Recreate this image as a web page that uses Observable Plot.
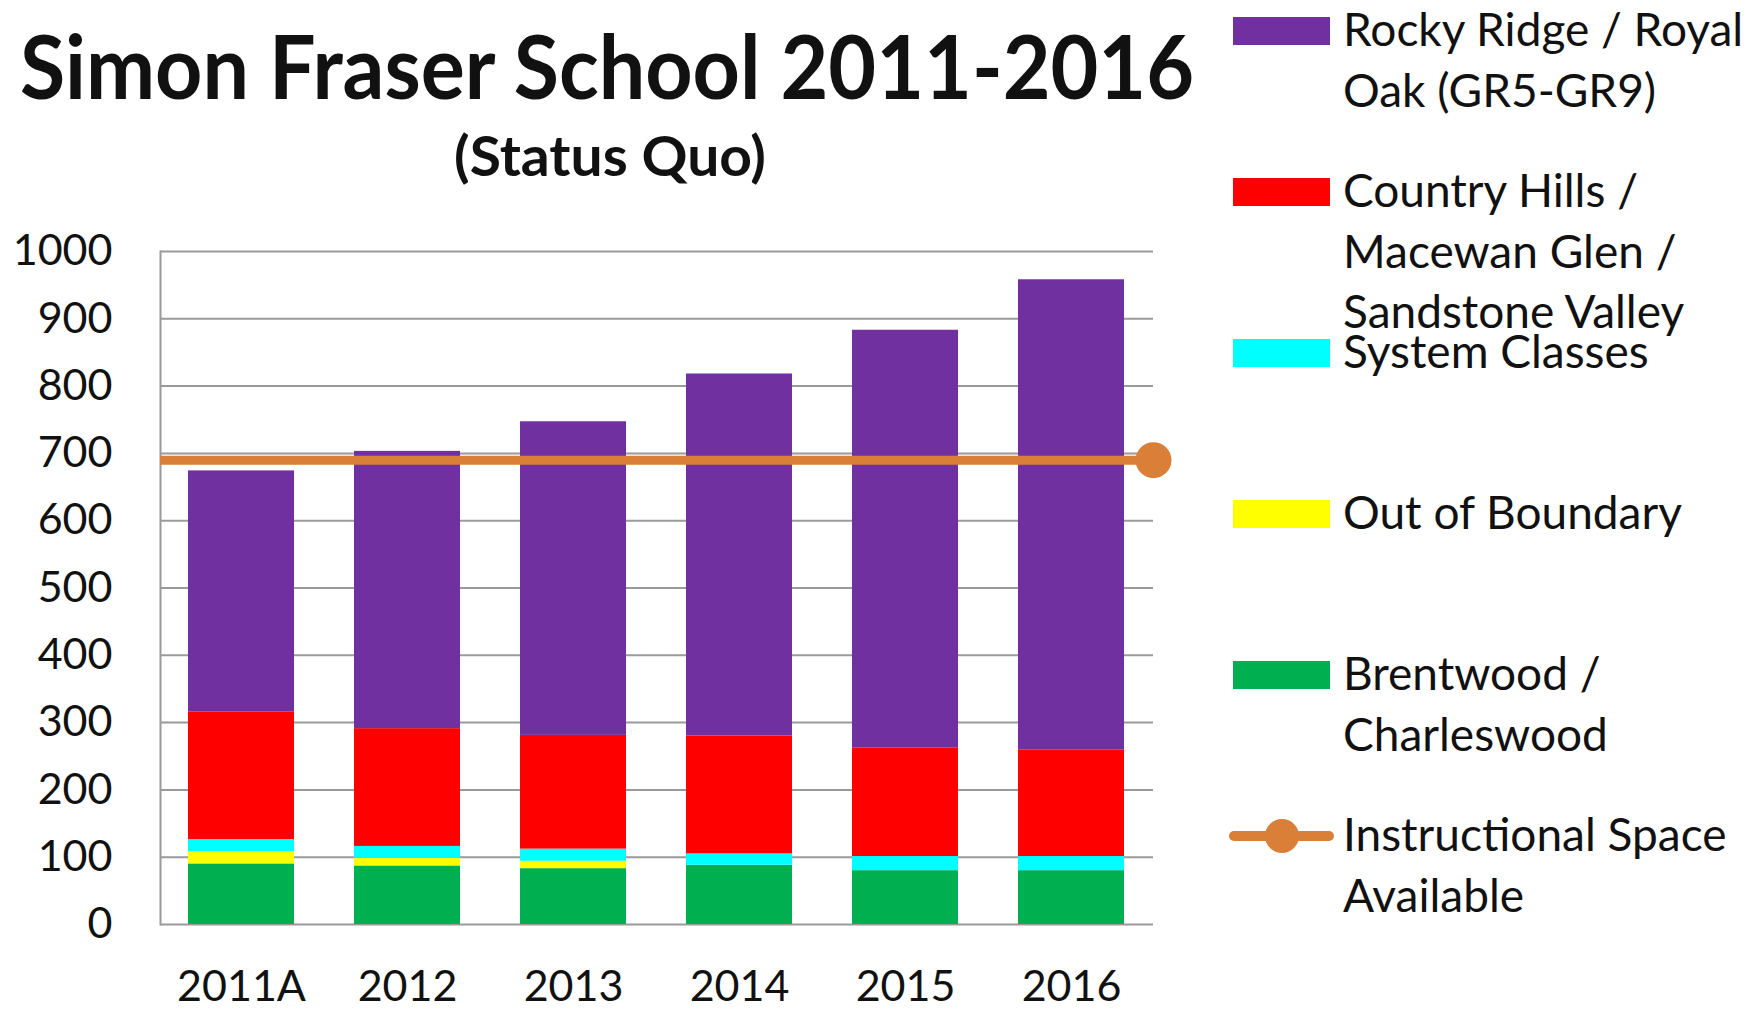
<!DOCTYPE html>
<html>
<head>
<meta charset="utf-8">
<script src="https://cdn.jsdelivr.net/npm/d3@7"></script>
<script src="https://cdn.jsdelivr.net/npm/@observablehq/plot@0.6"></script>
<style>
  html, body { margin: 0; padding: 0; background: #fff; }
  #page { position: relative; width: 1758px; height: 1009px; overflow: hidden; background: #fff; font-family: Lato, "Open Sans", sans-serif; color: #111; }
  .title { position: absolute; white-space: nowrap; font-weight: 700; line-height: 1; }
  .title span { display: inline-block; transform-origin: 0 0; }
  #chart { position: absolute; left: 0; top: 220px; }
  .lg-sw { position: absolute; }
  .lg-tx { position: absolute; white-space: pre; font-size: 46px; line-height: 60.5px; color: #111; }
</style>
</head>
<body>
<div id="page">
  <div class="title" id="title" style="left:20px; top:21px; font-size:88px;"><span>Simon Fraser School 2011-2016</span></div>
  <div class="title" id="subtitle" style="left:454px; top:127px; font-size:56px;"><span>(Status Quo)</span></div>
  <div id="chart"></div>
  <div id="legend"></div>
</div>
<script>
// ---- data ----
const years = ["2011A", "2012", "2013", "2014", "2015", "2016"];
const seriesNames = [
  "Brentwood / Charleswood",
  "Out of Boundary",
  "System Classes",
  "Country Hills / Macewan Glen / Sandstone Valley",
  "Rocky Ridge / Royal Oak (GR5-GR9)"
];
const seriesColors = ["#00B050", "#FFFF00", "#00FFFF", "#FF0000", "#7030A0"];
const brentwood     = [90, 87, 83, 88, 80, 80];
const outOfBoundary = [18, 11, 11, 0, 0, 0];
const systemClasses = [18, 18, 18, 17, 21, 21];
const countryHills  = [190, 175, 169, 175, 161, 158];
const rockyRidge    = [358, 412, 466, 538, 621, 699];
const instructionalSpace = 690;
const instructionalLabel = "Instructional Space Available";
const instructionalColor = "#D97F38";
const yTicks = [0, 100, 200, 300, 400, 500, 600, 700, 800, 900, 1000];
// legend labels as wrapped in the reference, top to bottom
const legendOrder = [4, 3, 2, 1, 0];
const legendLabels = [
  "Rocky Ridge / Royal\nOak (GR5-GR9)",
  "Country Hills /\nMacewan Glen /\nSandstone Valley",
  "System Classes",
  "Out of Boundary",
  "Brentwood /\nCharleswood",
  "Instructional Space\nAvailable"
];

const seriesValues = [brentwood, outOfBoundary, systemClasses, countryHills, rockyRidge];
const rows = years.flatMap((yr, i) =>
  seriesValues.map((vals, j) => ({year: yr, series: seriesNames[j], value: vals[i]}))
);

const chart = Plot.plot({
  width: 1180,
  height: 789,
  marginTop: 31,
  marginBottom: 85,
  marginLeft: 160,
  marginRight: 27,
  style: {fontFamily: "Lato, 'Open Sans', sans-serif", fontSize: "44px", color: "#111", background: "transparent", overflow: "visible"},
  x: {domain: years, paddingInner: 0.36, paddingOuter: 0.17, label: null},
  y: {domain: [0, 1000], label: null},
  color: {domain: seriesNames, range: seriesColors},
  marks: [
    Plot.gridY(yTicks, {stroke: "#9a9a9a", strokeOpacity: 1, strokeWidth: 2}),
    Plot.frame({anchor: "left", stroke: "#9a9a9a", strokeWidth: 2}),
    Plot.barY(rows, {x: "year", y: "value", fill: "series", order: seriesNames}),
    Plot.ruleY([instructionalSpace], {stroke: instructionalColor, strokeWidth: 9}),
    Plot.dot([instructionalSpace], {y: d => d, frameAnchor: "right", r: 18, fill: instructionalColor}),
    Plot.axisY(yTicks, {tickSize: 0, tickPadding: 48, fontSize: 43, tickFormat: d => String(d), label: null}),
    Plot.axisX({tickSize: 0, tickPadding: 46, fontSize: 43, label: null})
  ]
});
document.getElementById("chart").appendChild(chart);

// ---- legend ----
const legend = document.getElementById("legend");
const pitch = 161;
legendOrder.forEach((si, k) => {
  const cy = 31 + k * pitch;
  const sw = document.createElement("div");
  sw.className = "lg-sw";
  sw.style.cssText = `left:1233px; top:${cy - 14}px; width:97px; height:28px; background:${seriesColors[si]};`;
  legend.appendChild(sw);
  const tx = document.createElement("div");
  tx.className = "lg-tx";
  tx.style.left = "1343px";
  tx.style.top = `${cy - 32}px`;
  tx.textContent = legendLabels[k];
  legend.appendChild(tx);
});
{
  const k = 5;
  const cy = 31 + k * pitch;
  const ln = document.createElement("div");
  ln.className = "lg-sw";
  ln.style.cssText = `left:1229px; top:${cy - 5}px; width:105px; height:10px; border-radius:5px; background:${instructionalColor};`;
  legend.appendChild(ln);
  const dt = document.createElement("div");
  dt.className = "lg-sw";
  dt.style.cssText = `left:${1282 - 17}px; top:${cy - 17}px; width:34px; height:34px; border-radius:50%; background:${instructionalColor};`;
  legend.appendChild(dt);
  const tx = document.createElement("div");
  tx.className = "lg-tx";
  tx.style.left = "1343px";
  tx.style.top = `${cy - 32}px`;
  tx.textContent = legendLabels[k];
  legend.appendChild(tx);
}

// ---- fit title widths to the reference ----
function fit(id, targetWidth) {
  const span = document.querySelector(`#${id} span`);
  const w = span.getBoundingClientRect().width;
  if (w > 0) span.style.transform = `scaleX(${targetWidth / w})`;
}
fit("title", 1174);
fit("subtitle", 312);
</script>
</body>
</html>
